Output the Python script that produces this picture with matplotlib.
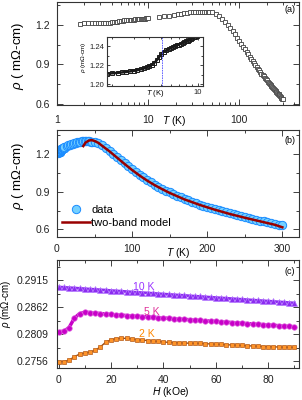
import matplotlib
matplotlib.use('Agg')
import matplotlib.pyplot as plt
from matplotlib.ticker import MultipleLocator, NullFormatter, LogLocator

plt.rcParams['font.family'] = ['Liberation Sans', 'DejaVu Sans']
plt.rcParams['mathtext.fontset'] = 'custom'
plt.rcParams['mathtext.it'] = 'Liberation Sans:italic'
plt.rcParams['mathtext.rm'] = 'Liberation Sans'

# ---------------- dados ----------------
# rho(T) em zero campo, baixa temperatura (1.8 - 10 K)
t_baixa = [1.8, 2.0, 2.2, 2.4, 2.6, 2.8, 3.0, 3.2, 3.4, 3.6, 3.8, 4.0, 4.2, 4.4,
           4.6, 4.8, 5.0, 5.25, 5.5, 5.75, 6.0, 6.25, 6.5, 6.75, 7.0, 7.25, 7.5,
           7.75, 8.0, 8.25, 8.5, 8.75, 9.0, 9.25, 9.5, 9.75, 10.0]
rho_baixa = [1.2110, 1.2114, 1.2118, 1.2123, 1.2128, 1.2134, 1.2140, 1.2147, 1.2155,
             1.2164, 1.2175, 1.2188, 1.2204, 1.2224, 1.2250, 1.2282, 1.2315, 1.2340,
             1.2355, 1.2366, 1.2377, 1.2387, 1.2397, 1.2406, 1.2415, 1.2424, 1.2433,
             1.2442, 1.2450, 1.2458, 1.2466, 1.2474, 1.2482, 1.2490, 1.2498, 1.2506,
             1.2514]

# rho(T) acima de 10 K
t_alta = [13, 15, 17, 19, 21, 23, 25, 27, 29, 31, 33, 35, 37, 39, 41, 43, 45, 47,
          50, 55, 60, 65, 70, 75, 80, 85, 90, 95, 100, 105, 110, 115, 120, 125,
          130, 135, 140, 145, 150, 155, 160, 165, 170, 175, 180, 185, 190, 195,
          200, 205, 210, 215, 220, 225, 230, 235, 240, 245, 250, 255, 260, 265,
          270, 275, 280, 285, 290, 295, 300]
rho_alta = [1.262, 1.267, 1.272, 1.277, 1.282, 1.286, 1.290, 1.293, 1.296, 1.298,
            1.299, 1.300, 1.300, 1.300, 1.300, 1.299, 1.298, 1.297,
            1.295, 1.285, 1.268, 1.248, 1.226, 1.202, 1.178, 1.153, 1.128, 1.104,
            1.080, 1.057, 1.035, 1.014, 0.994, 0.975, 0.957, 0.940, 0.924, 0.909,
            0.894, 0.880, 0.867, 0.854, 0.842, 0.830, 0.819, 0.808, 0.798, 0.788,
            0.778, 0.769, 0.760, 0.751, 0.743, 0.735, 0.727, 0.719, 0.712, 0.705,
            0.698, 0.691, 0.684, 0.677, 0.671, 0.664, 0.658, 0.651, 0.645, 0.639,
            0.633]

# modelo de duas bandas
t_modelo = [35, 38, 42, 46, 50, 55, 60, 70, 80, 90, 100, 110, 120, 130, 140, 150,
            170, 190, 210, 230, 250, 270, 290, 300]
rho_modelo = [1.262, 1.290, 1.305, 1.310, 1.303, 1.288, 1.265, 1.220, 1.170, 1.120,
              1.072, 1.028, 0.988, 0.952, 0.920, 0.890, 0.838, 0.795, 0.757, 0.723,
              0.693, 0.665, 0.637, 0.617]

# magnetorresistencia
campo = [0, 2, 4, 6, 8, 10, 12, 14, 16, 18, 20, 22, 24, 26, 28, 30, 32, 34, 36, 38,
         40, 42, 44, 46, 48, 50, 52, 54, 56, 58, 60, 62, 64, 66, 68, 70, 72, 74, 76,
         78, 80, 82, 84, 86, 88, 90]
rho_10k = [0.29013, 0.29007, 0.29000, 0.28994, 0.28986, 0.28980, 0.28972, 0.28966,
           0.28958, 0.28952, 0.28944, 0.28937, 0.28930, 0.28923, 0.28916, 0.28909,
           0.28902, 0.28896, 0.28889, 0.28882, 0.28875, 0.28868, 0.28861, 0.28854,
           0.28848, 0.28840, 0.28833, 0.28827, 0.28820, 0.28812, 0.28806, 0.28799,
           0.28792, 0.28785, 0.28778, 0.28771, 0.28764, 0.28757, 0.28750, 0.28743,
           0.28736, 0.28729, 0.28722, 0.28715, 0.28707, 0.28700]
rho_5k = [0.28135, 0.28145, 0.28215, 0.28400, 0.28490, 0.28518, 0.28512, 0.28502,
          0.28492, 0.28483, 0.28474, 0.28467, 0.28460, 0.28453, 0.28446, 0.28440,
          0.28433, 0.28426, 0.28419, 0.28412, 0.28405, 0.28398, 0.28391, 0.28384,
          0.28378, 0.28371, 0.28364, 0.28357, 0.28350, 0.28343, 0.28336, 0.28330,
          0.28323, 0.28316, 0.28309, 0.28302, 0.28295, 0.28288, 0.28282, 0.28275,
          0.28268, 0.28261, 0.28254, 0.28247, 0.28240, 0.28233]
rho_2k = [0.27546, 0.27550, 0.27575, 0.27645, 0.27695, 0.27716, 0.27736, 0.27770,
          0.27840, 0.27930, 0.27978, 0.28000, 0.28006, 0.28005, 0.27995, 0.27980,
          0.27970, 0.27962, 0.27953, 0.27945, 0.27935, 0.27926, 0.27920, 0.27916,
          0.27912, 0.27910, 0.27908, 0.27905, 0.27900, 0.27895, 0.27890, 0.27885,
          0.27880, 0.27875, 0.27870, 0.27865, 0.27860, 0.27855, 0.27850, 0.27845,
          0.27841, 0.27838, 0.27835, 0.27832, 0.27830, 0.27828]

yticks_c = [0.2756, 0.2809, 0.2862, 0.2915]
ylabel_rho = r'$\rho$ ( m$\Omega$-cm)'


def estilo(ax, tam=7.5):
    ax.tick_params(which='both', direction='in', top=True, right=True,
                   labelsize=tam, width=0.6, colors='#222222')
    ax.tick_params(which='major', length=4, pad=5)
    ax.tick_params(which='minor', length=2)
    for s in ax.spines.values():
        s.set_linewidth(0.8)
        s.set_color('#333333')


fig = plt.figure(figsize=(3.02, 4.0), dpi=100)

# ---------------- (a) ----------------
ax1 = fig.add_axes([0.1887, 0.7375, 0.801, 0.2575])
t_todos = t_baixa + t_alta
rho_todos = rho_baixa + rho_alta
ax1.plot(t_baixa, rho_baixa, '-', color='#303030', lw=1.5)
ax1.plot(t_todos, rho_todos, 's', ms=3.5, mfc='white', mec='#404040', mew=0.6)
ax1.set_xscale('log')
ax1.set_xlim(1, 450)
ax1.set_ylim(0.59, 1.375)
ax1.set_xticks([1, 10, 100])
ax1.set_xticklabels(['1', '10', '100'])
ax1.xaxis.set_minor_locator(LogLocator(base=10, subs=range(2, 10)))
ax1.xaxis.set_minor_formatter(NullFormatter())
ax1.set_yticks([0.6, 0.9, 1.2])
ax1.yaxis.set_minor_locator(MultipleLocator(0.15))
estilo(ax1)
ax1.tick_params(axis='x', which='major', pad=7)
ax1.set_xlabel('$T$ (K)', fontsize=7.5)
ax1.xaxis.set_label_coords(0.483, -0.085)
ax1.set_ylabel(ylabel_rho, fontsize=9.5)
ax1.yaxis.set_label_coords(-0.13, 0.476)
ax1.text(0.985, 0.9, '(a)', transform=ax1.transAxes, ha='right', fontsize=6.5)

# inset
axi = fig.add_axes([0.354, 0.785, 0.318, 0.1225])
axi.plot(t_baixa, rho_baixa, '-', color='#1a1a1a', lw=1.8)
axi.plot(t_baixa, rho_baixa, 's', ms=2.8, mfc='none', mec='#1a1a1a', mew=0.7)
axi.axvline(5.1, color='#5050ff', lw=0.6, ls=(0, (2, 1)))
axi.set_xscale('log')
axi.set_xlim(1.8, 11)
axi.set_ylim(1.198, 1.2495)
axi.set_xticks([10])
axi.set_xticklabels(['10'])
axi.xaxis.set_minor_locator(LogLocator(base=10, subs=range(2, 10)))
axi.xaxis.set_minor_formatter(NullFormatter())
axi.set_yticks([1.20, 1.22, 1.24])
axi.set_yticklabels(['1.20', '1.22', '1.24'])
axi.yaxis.set_minor_locator(MultipleLocator(0.01))
estilo(axi, tam=5.5)
axi.tick_params(which='major', length=2.5, pad=2)
axi.tick_params(which='minor', length=1.3)
axi.set_xlabel('$T$ (K)', fontsize=5.5)
axi.xaxis.set_label_coords(0.5, -0.04)
axi.set_ylabel(r'$\rho$ (m$\Omega$-cm)', fontsize=4.5)
axi.yaxis.set_label_coords(-0.2, 0.59)

# ---------------- (b) ----------------
ax2 = fig.add_axes([0.1887, 0.4075, 0.801, 0.2675])
ax2.plot(t_todos, rho_todos, 'o', ms=6, mfc='#74d0ff', mec='#1a8cff', mew=0.7,
         label='data', zorder=2)
ax2.plot(t_modelo, rho_modelo, '-', color='#990000', lw=1.8,
         label='two-band model', zorder=3)
ax2.set_xlim(0, 322)
ax2.set_ylim(0.54, 1.39)
ax2.set_xticks([0, 100, 200, 300])
ax2.xaxis.set_minor_locator(MultipleLocator(50))
ax2.set_yticks([0.6, 0.9, 1.2])
ax2.yaxis.set_minor_locator(MultipleLocator(0.15))
estilo(ax2)
ax2.set_xlabel('$T$ (K)', fontsize=7.5)
ax2.xaxis.set_label_coords(0.5, -0.085)
ax2.set_ylabel(ylabel_rho, fontsize=9.5)
ax2.yaxis.set_label_coords(-0.13, 0.57)
ax2.text(0.985, 0.88, '(b)', transform=ax2.transAxes, ha='right', fontsize=6.5)
ax2.legend(loc='upper left', bbox_to_anchor=(0.02, 0.30), frameon=False,
           fontsize=8, handlelength=2.5, handletextpad=0.15, borderpad=0,
           borderaxespad=0, labelspacing=0.3)

# ---------------- (c) ----------------
ax3 = fig.add_axes([0.1887, 0.08, 0.801, 0.27])
ax3.plot(campo, rho_2k, '-', color='#9a4a10', lw=1.0)
ax3.plot(campo, rho_2k, 's', ms=3.5, mfc='#ff9428', mec='#b35a18', mew=0.5)
ax3.plot(campo, rho_5k, '-', color='#c800c8', lw=2.5)
ax3.plot(campo, rho_5k, 'o', ms=4, mfc='#c800c8', mec='#e070e0', mew=0.5)
ax3.plot(campo, rho_10k, '-', color='#8c2cf0', lw=2.0)
ax3.plot(campo, rho_10k, '^', ms=4, mfc='#8c2cf0', mec='#b880ff', mew=0.5)
ax3.set_xlim(-0.6, 91.7)
ax3.set_ylim(0.27423, 0.29543)
ax3.set_xticks([0, 20, 40, 60, 80])
ax3.xaxis.set_minor_locator(MultipleLocator(10))
ax3.set_yticks(yticks_c)
ax3.set_yticklabels([f'{v:.4f}' for v in yticks_c])
ax3.yaxis.set_minor_locator(MultipleLocator(0.00265))
estilo(ax3)
ax3.tick_params(axis='y', which='major', pad=6)
ax3.set_xlabel('$H$ (kOe)', fontsize=7.5)
ax3.xaxis.set_label_coords(0.471, -0.16)
ax3.set_ylabel(r'$\rho$ (m$\Omega$-cm)', fontsize=7)
ax3.yaxis.set_label_coords(-0.18, 0.59)
ax3.text(0.985, 0.87, '(c)', transform=ax3.transAxes, ha='right', fontsize=6.5)
ax3.text(32.6, 0.29010, '10 K', color='#9933ff', fontsize=7.5, ha='center', va='center')
ax3.text(35.6, 0.28530, '5 K', color='#e0309a', fontsize=7.5, ha='center', va='center')
ax3.text(33.7, 0.28090, '2 K', color='#ff8800', fontsize=7.5, ha='center', va='center')

fig.savefig('out.png', dpi=100)
